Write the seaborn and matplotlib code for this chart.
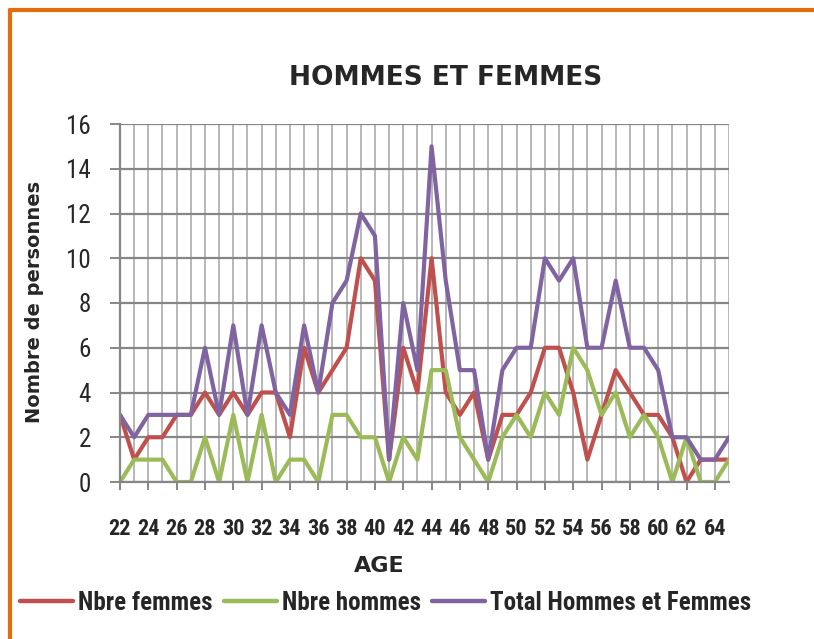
import matplotlib
matplotlib.use('Agg')
import matplotlib.pyplot as plt
from matplotlib.lines import Line2D
from matplotlib.ticker import MultipleLocator
from matplotlib import font_manager
import seaborn as sns
import pandas as pd

# Données
ages = list(range(22, 66))
femmes = [3, 1, 2, 2, 3, 3, 4, 3, 4, 3, 4, 4, 2, 6, 4, 5, 6, 10, 9, 1, 6, 4,
          10, 4, 3, 4, 1, 3, 3, 4, 6, 6, 4, 1, 3, 5, 4, 3, 3, 2, 0, 1, 1, 1]
hommes = [0, 1, 1, 1, 0, 0, 2, 0, 3, 0, 3, 0, 1, 1, 0, 3, 3, 2, 2, 0, 2, 1,
          5, 5, 2, 1, 0, 2, 3, 2, 4, 3, 6, 5, 3, 4, 2, 3, 2, 0, 2, 0, 0, 1]
total = [3, 2, 3, 3, 3, 3, 6, 3, 7, 3, 7, 4, 3, 7, 4, 8, 9, 12, 11, 1, 8, 5,
         15, 9, 5, 5, 1, 5, 6, 6, 10, 9, 10, 6, 6, 9, 6, 6, 5, 2, 2, 1, 1, 2]
series = ["Nbre femmes", "Nbre hommes", "Total Hommes et Femmes"]
couleurs = ["#C0504D", "#9BBB59", "#8064A2"]
ticks_x = list(range(22, 66, 2))
ticks_y = list(range(0, 17, 2))

df = pd.DataFrame({
    "AGE": ages * 3,
    "valeur": femmes + hommes + total,
    "serie": [series[0]] * len(ages) + [series[1]] * len(ages) + [series[2]] * len(ages),
})

sns.set_style("white")

# police étroite si disponible
dispo = {f.name for f in font_manager.fontManager.ttflist}
narrow = "DejaVu Sans"
for nom in ["Liberation Sans Narrow", "DejaVu Sans Condensed", "Roboto Condensed"]:
    if nom in dispo:
        narrow = nom
        break
condense = narrow != "DejaVu Sans"

fig = plt.figure(figsize=(8.14, 6.39), dpi=100)
ax = fig.add_axes([120 / 814, 1 - 482 / 639, 609 / 814, 358 / 639])

sns.lineplot(data=df, x="AGE", y="valeur", hue="serie", palette=couleurs,
             linewidth=3.0, legend=False, ax=ax)

ax.set_xlim(22, 65)
ax.set_ylim(0, 16)
ax.set_xticks(ticks_x)
ax.xaxis.set_minor_locator(MultipleLocator(1))
ax.set_yticks(ticks_y)
ax.grid(True, which="both", axis="x", color="#ABABAB", linewidth=1.2)
ax.grid(True, axis="y", color="#868686", linewidth=1.6)
ax.set_axisbelow(True)

for s in ["top", "right"]:
    ax.spines[s].set_visible(False)
for s in ["left", "bottom"]:
    ax.spines[s].set_color("#868686")
    ax.spines[s].set_linewidth(1.6)

ax.tick_params(axis="x", which="major", length=6, width=1.4, color="#868686",
               direction="out", pad=20, bottom=True)
ax.tick_params(axis="x", which="minor", length=0)
ax.tick_params(axis="y", length=7, width=1.4, color="#868686", direction="out",
               pad=14, left=True)
for lab in ax.get_xticklabels():
    lab.set_family(narrow)
    lab.set_fontweight("bold")
    lab.set_fontsize(16 if condense else 11.5)
for lab in ax.get_yticklabels():
    lab.set_family(narrow)
    lab.set_fontsize(18 if condense else 16)

ax.set_xlabel("")
ax.set_ylabel("")

fig.text(446 / 814, 1 - 78 / 639, "HOMMES ET FEMMES", ha="center", va="center",
         fontsize=19, fontweight="heavy", family=["DejaVu Sans"])
fig.text(379 / 814, 1 - 566 / 639, "AGE", ha="center", va="center",
         fontsize=16, fontweight="heavy", family=["DejaVu Sans"])
fig.text(35 / 814, 1 - 302 / 639, "Nombre de personnes", ha="center", va="center",
         rotation=90, fontsize=14, fontweight="heavy", family=["DejaVu Sans"])

handles = [Line2D([0], [0], color=c, linewidth=3.2) for c in couleurs]
fig.legend(handles, series, loc="center", bbox_to_anchor=(386 / 814, 1 - 603 / 639),
           ncol=3, frameon=False, handlelength=2.1 if condense else 3.0,
           handletextpad=0.22, columnspacing=0.45,
           prop={"family": narrow, "weight": "bold", "size": 18 if condense else 13})

# Cadre orange (haut et gauche)
orange = "#E46C0A"
fig.add_artist(Line2D([10 / 814, 1], [1 - 10 / 639, 1 - 10 / 639], color=orange,
                      linewidth=3, transform=fig.transFigure))
fig.add_artist(Line2D([10 / 814, 10 / 814], [0, 1 - 10 / 639], color=orange,
                      linewidth=3, transform=fig.transFigure))

plt.savefig("out.png", dpi=100)
plt.close()
